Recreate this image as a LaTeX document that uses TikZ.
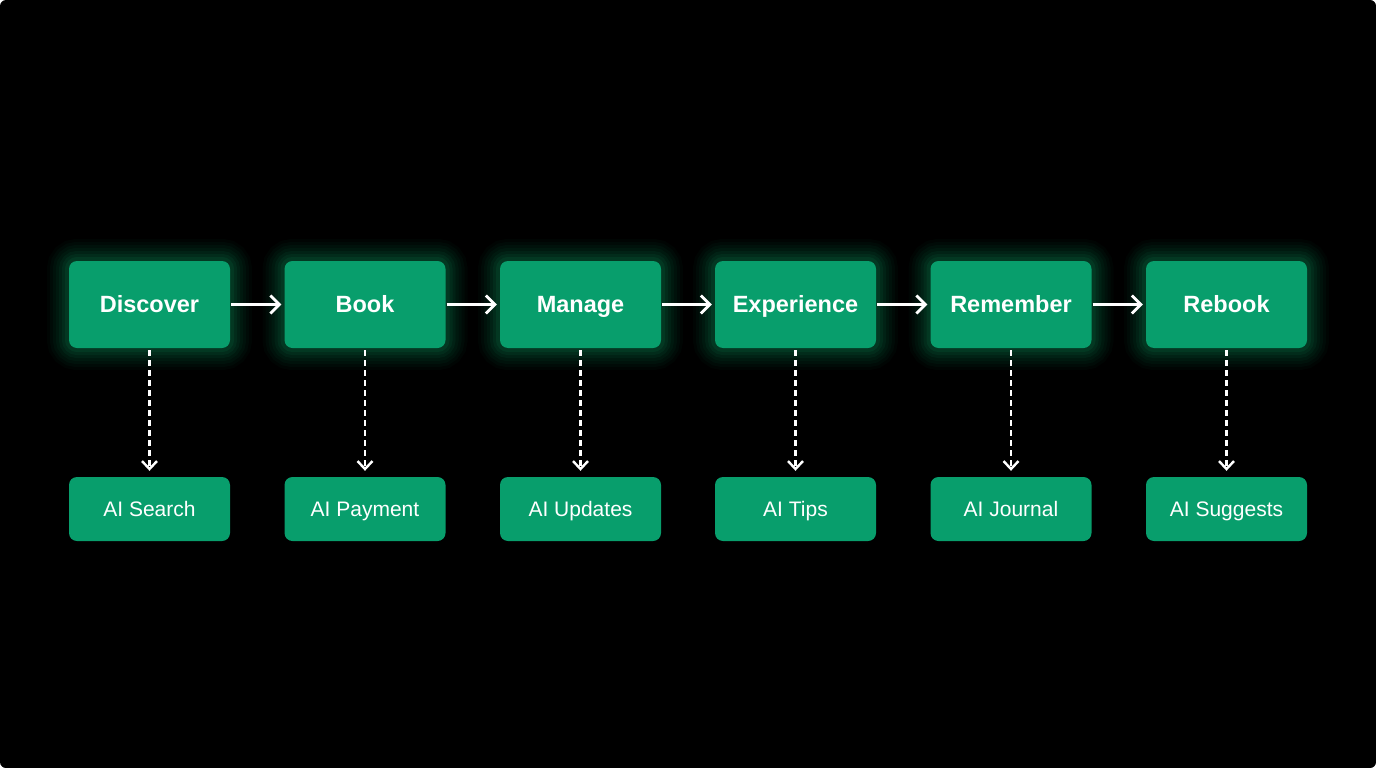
\documentclass[tikz,border=0pt]{standalone}
\usepackage{fontspec}
\setmainfont{Liberation Sans}
\usetikzlibrary{arrows.meta}
\definecolor{boxgreen}{RGB}{8,158,108}
\definecolor{glowgreen}{RGB}{20,215,135}
\tikzset{
  topbox/.style={rectangle, rounded corners=8pt, fill=boxgreen, text=white,
    minimum width=161pt, minimum height=87pt, inner sep=0pt,
    text height=16.8pt, text depth=0pt,
    font=\fontsize{23.5}{28}\selectfont\bfseries,
    preaction={draw=glowgreen, line width=44pt, draw opacity=0.025},
    preaction={draw=glowgreen, line width=38pt, draw opacity=0.03},
    preaction={draw=glowgreen, line width=32pt, draw opacity=0.035},
    preaction={draw=glowgreen, line width=26pt, draw opacity=0.04},
    preaction={draw=glowgreen, line width=20pt, draw opacity=0.05},
    preaction={draw=glowgreen, line width=14pt, draw opacity=0.06},
    preaction={draw=glowgreen, line width=8pt, draw opacity=0.07}},
  aibox/.style={rectangle, rounded corners=8pt, fill=boxgreen, text=white,
    minimum width=161pt, minimum height=64pt, inner sep=0pt,
    text height=15pt, text depth=0pt,
    font=\fontsize{21}{25}\selectfont},
  flow/.style={draw=white, line width=2.8pt, -{Straight Barb[length=9pt,width=18pt,line width=2.8pt]}},
  aiflow/.style={draw=white, line width=2.4pt, dash pattern=on 6pt off 4pt,
    -{Straight Barb[length=8pt,width=15pt,line width=2.4pt]}}
}
\begin{document}
\begin{tikzpicture}[x=1pt,y=-1pt]
\fill[black, rounded corners=6pt] (0,0) rectangle (1376,768);
\useasboundingbox (0,0) rectangle (1376,768);
\foreach \n/\x/\t/\b in {a/149.5/Discover/AI Search, b/365/Book/AI Payment,
  c/580.5/Manage/AI Updates, d/795.5/Experience/AI Tips,
  e/1011/Remember/AI Journal, f/1226.5/Rebook/AI Suggests}{
  \node[topbox] (\n) at (\x,304.5) {\t};
  \node[aibox] (\n2) at (\x,509) {\b};
}
\foreach \p/\q in {a/b,b/c,c/d,d/e,e/f}{
  \draw[flow] ([xshift=1pt]\p.east) -- ([xshift=-3pt]\q.west);
}
\foreach \p in {a,b,c,d,e,f}{
  \draw[aiflow] ([yshift=-2pt]\p.south) -- ([yshift=6pt]\p2.north);
}
\end{tikzpicture}
\end{document}
